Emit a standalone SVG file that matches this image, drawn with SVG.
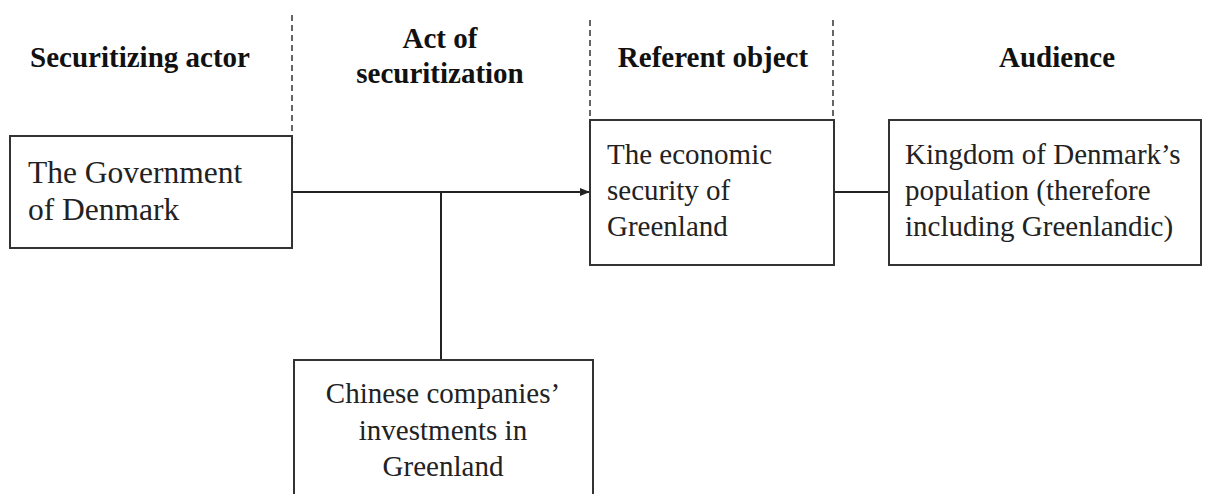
<svg xmlns="http://www.w3.org/2000/svg" width="1211" height="494" viewBox="0 0 1211 494">
<style>
.box{fill:#fff;stroke:#333;stroke-width:2}
.hd{font-family:"Liberation Serif",serif;font-weight:bold;font-size:29px;fill:#111;text-anchor:middle}
.tx{font-family:"Liberation Serif",serif;font-size:29px;fill:#222}
.big{font-size:31.5px}
.dash{stroke:#333;stroke-width:1.5;stroke-dasharray:6,4;fill:none}
.ln{stroke:#222;stroke-width:2;fill:none}
</style>
<defs>
<marker id="arr" markerWidth="10" markerHeight="8" refX="9" refY="4" orient="auto" markerUnits="userSpaceOnUse">
<path d="M0,0 L10,4 L0,8 z" fill="#222"/>
</marker>
</defs>
<g id="headers">
<text class="hd" x="140" y="67">Securitizing actor</text>
<text class="hd" x="440" y="48">Act of</text>
<text class="hd" x="440" y="83">securitization</text>
<text class="hd" x="713" y="67">Referent object</text>
<text class="hd" x="1057" y="67">Audience</text>
<line class="dash" x1="292" y1="15" x2="292" y2="135"/>
<line class="dash" x1="590" y1="20" x2="590" y2="120"/>
<line class="dash" x1="833" y1="20" x2="833" y2="120"/>
</g>
<g id="connectors">
<line class="ln" x1="292" y1="192" x2="589" y2="192" marker-end="url(#arr)"/>
<line class="ln" x1="441" y1="192" x2="441" y2="360"/>
<line class="ln" x1="834" y1="192" x2="889" y2="192"/>
</g>
<g id="actor">
<rect class="box" x="10" y="136" width="282" height="112"/>
<text class="tx big" x="28" y="183">The Government</text>
<text class="tx big" x="28" y="220">of Denmark</text>
</g>
<g id="referent">
<rect class="box" x="590" y="120" width="244" height="145"/>
<text class="tx" x="607" y="164">The economic</text>
<text class="tx" x="607" y="200">security of</text>
<text class="tx" x="607" y="236">Greenland</text>
</g>
<g id="audience">
<rect class="box" x="889" y="120" width="312" height="145"/>
<text class="tx" x="905" y="164">Kingdom of Denmark’s</text>
<text class="tx" x="905" y="200">population (therefore</text>
<text class="tx" x="905" y="236">including Greenlandic)</text>
</g>
<g id="act">
<rect class="box" x="294" y="360" width="299" height="150"/>
<text class="tx" x="443" y="403" text-anchor="middle">Chinese companies’</text>
<text class="tx" x="443" y="440" text-anchor="middle">investments in</text>
<text class="tx" x="443" y="476" text-anchor="middle">Greenland</text>
</g>
</svg>
